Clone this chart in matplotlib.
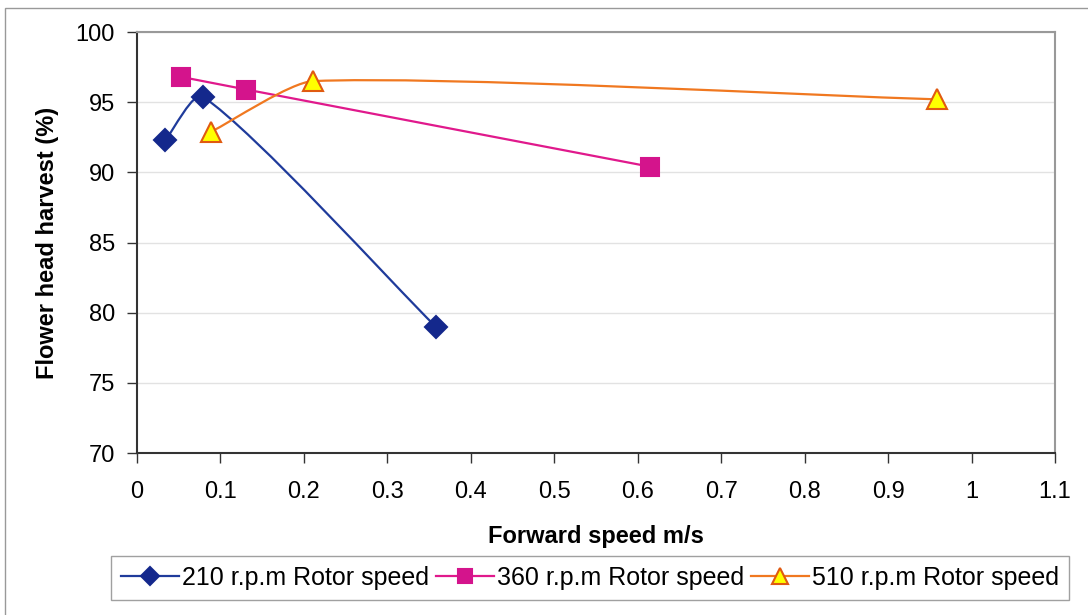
import numpy as np
import matplotlib
matplotlib.use('Agg')
import matplotlib.pyplot as plt
from matplotlib.path import Path
from matplotlib.patches import PathPatch, Rectangle
from matplotlib.lines import Line2D

plt.rcParams['font.family'] = ['Liberation Sans', 'DejaVu Sans']

# forward speed (m/s) and flower head harvest (%)
x210 = [0.034, 0.079, 0.358]
y210 = [92.3, 95.4, 79.0]
x360 = [0.053, 0.131, 0.615]
y360 = [96.8, 95.9, 90.4]
x510 = [0.089, 0.211, 0.959]
y510 = [92.9, 96.5, 95.2]

labels = ['210 r.p.m Rotor speed', '360 r.p.m Rotor speed', '510 r.p.m Rotor speed']

xlim = (0, 1.1)
ylim = (70, 100)
W, H = 918.0, 421.0   # plot area size in px, used for smoothing


def smooth_path(xs, ys, t=0.2):
    # excel-like smoothed line: cubic bezier, computed in pixel-ish space
    px = (np.array(xs) - xlim[0]) / (xlim[1] - xlim[0]) * W
    py = (np.array(ys) - ylim[0]) / (ylim[1] - ylim[0]) * H
    P = np.column_stack([px, py])
    n = len(P)
    verts = [P[0]]
    codes = [Path.MOVETO]
    for i in range(n - 1):
        a, b = P[i], P[i + 1]
        seg = np.linalg.norm(b - a)
        ta = (P[min(i + 1, n - 1)] - P[max(i - 1, 0)])
        tb = (P[min(i + 2, n - 1)] - P[i])
        ta = ta / np.linalg.norm(ta)
        tb = tb / np.linalg.norm(tb)
        c1 = a + ta * seg * t
        c2 = b - tb * seg * t
        verts += [c1, c2, b]
        codes += [Path.CURVE4] * 3
    v = np.array(verts)
    v[:, 0] = v[:, 0] / W * (xlim[1] - xlim[0]) + xlim[0]
    v[:, 1] = v[:, 1] / H * (ylim[1] - ylim[0]) + ylim[0]
    return Path(v, codes)


fig = plt.figure(figsize=(10.88, 6.15), dpi=100)
ax = fig.add_axes([137 / 1088, 1 - 453 / 615, 918 / 1088, 421 / 615])

# outer chart border
fig.add_artist(Rectangle((5 / 1088, -0.05), 1.2, 1 - 8 / 615 + 0.05, transform=fig.transFigure,
                         fill=False, edgecolor='#999999', linewidth=1.0))

series = [
    (x210, y210, '#1f3b9b', 'D', '#14288c', '#14288c', 11.5),
    (x360, y360, '#e0198c', 's', '#d4148c', '#d4148c', 13),
    (x510, y510, '#f07820', '^', '#ffff00', '#e05a10', 15),
]

handles = []
for xs, ys, lc, mk, fc, ec, ms in series:
    ax.add_patch(PathPatch(smooth_path(xs, ys), facecolor='none', edgecolor=lc, linewidth=1.6, zorder=3))
    ax.plot(xs, ys, linestyle='none', marker=mk, markersize=ms, markerfacecolor=fc,
            markeredgecolor=ec, markeredgewidth=1.5, zorder=4)
    handles.append(Line2D([], [], color=lc, linewidth=1.6, marker=mk, markersize=ms * 0.8,
                          markerfacecolor=fc, markeredgecolor=ec, markeredgewidth=1.5))

ax.set_xlim(*xlim)
ax.set_ylim(*ylim)
ax.set_xticks(np.arange(0, 1.11, 0.1))
ax.set_xticklabels(['0', '0.1', '0.2', '0.3', '0.4', '0.5', '0.6', '0.7', '0.8', '0.9', '1', '1.1'])
ax.set_yticks(range(70, 101, 5))
ax.yaxis.grid(True, color='#e2e2e2', linewidth=1.0)
ax.set_axisbelow(True)
ax.tick_params(axis='both', direction='out', length=7, width=1, color='#333333', labelsize=17)
ax.tick_params(axis='x', pad=13)
ax.tick_params(axis='y', pad=9)
for s in ['left', 'bottom']:
    ax.spines[s].set_color('#333333')
    ax.spines[s].set_linewidth(1.5)
for s in ['top', 'right']:
    ax.spines[s].set_color('#999999')
    ax.spines[s].set_linewidth(1.5)

ax.set_xlabel('Forward speed m/s', fontsize=17, fontweight='bold', labelpad=16)
ax.set_ylabel('Flower head harvest (%)', fontsize=17, fontweight='bold', labelpad=12)

leg = fig.legend(handles, labels, loc='center', ncol=3,
                 bbox_to_anchor=(590 / 1088, 1 - 578 / 615),
                 fontsize=18, frameon=True, fancybox=False,
                 handlelength=2.3, handletextpad=0.12, columnspacing=0.3, borderpad=0.4,
                 borderaxespad=0)
leg.get_frame().set_edgecolor('#888888')
leg.get_frame().set_linewidth(1.0)

fig.savefig('out.png', dpi=100)
